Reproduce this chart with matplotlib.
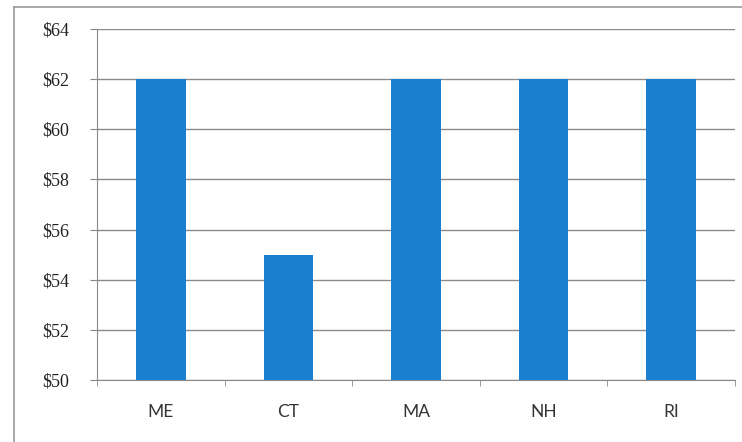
import matplotlib.pyplot as plt
from matplotlib.lines import Line2D
from matplotlib.ticker import FuncFormatter

plt.rcParams['font.family'] = 'serif'
plt.rcParams['font.serif'] = ['Liberation Serif', 'DejaVu Serif']

states = ['ME', 'CT', 'MA', 'NH', 'RI']
prices = [62, 55, 62, 62, 62]
y_ticks = [50, 52, 54, 56, 58, 60, 62, 64]

fig = plt.figure(figsize=(7.42, 4.42), dpi=100)
ax = fig.add_axes([0.1307, 0.1403, 0.8599, 0.7941])

x = range(len(states))
ax.bar(x, [p - 50 for p in prices], bottom=50, width=0.39, color='#1b7fcf', zorder=3)

ax.set_xlim(-0.5, len(states) - 0.5)
ax.set_ylim(50, 64)
ax.set_yticks(y_ticks)
ax.yaxis.set_major_formatter(FuncFormatter(lambda v, pos: f'${v:.0f}'))
ax.tick_params(axis='y', length=5, color='#888888', pad=15,
               labelsize=13, labelcolor='#222222')

# category labels between tick marks at the boundaries
ax.set_xticks(list(x))
ax.set_xticklabels(states, fontsize=12.5, fontfamily='Lato', color='#333333')
ax.tick_params(axis='x', length=0, pad=17)
ax.set_xticks([i - 0.5 for i in range(len(states) + 1)], minor=True)
ax.tick_params(axis='x', which='minor', length=4, color='#888888', direction='out')

ax.grid(axis='y', color='#8a8a8a', linewidth=1.0, zorder=0)
for side in ['top', 'right']:
    ax.spines[side].set_visible(False)
ax.spines['left'].set_color('#8a8a8a')
ax.spines['bottom'].set_color('#8a8a8a')

# outer frame of the chart
fig.add_artist(Line2D([14 / 742, 14 / 742], [0, 1 - 7 / 442], transform=fig.transFigure,
                      color='#999999', linewidth=1.2))
fig.add_artist(Line2D([14 / 742, 1], [1 - 7 / 442, 1 - 7 / 442], transform=fig.transFigure,
                      color='#999999', linewidth=1.2))

fig.savefig('out.png', dpi=100)
